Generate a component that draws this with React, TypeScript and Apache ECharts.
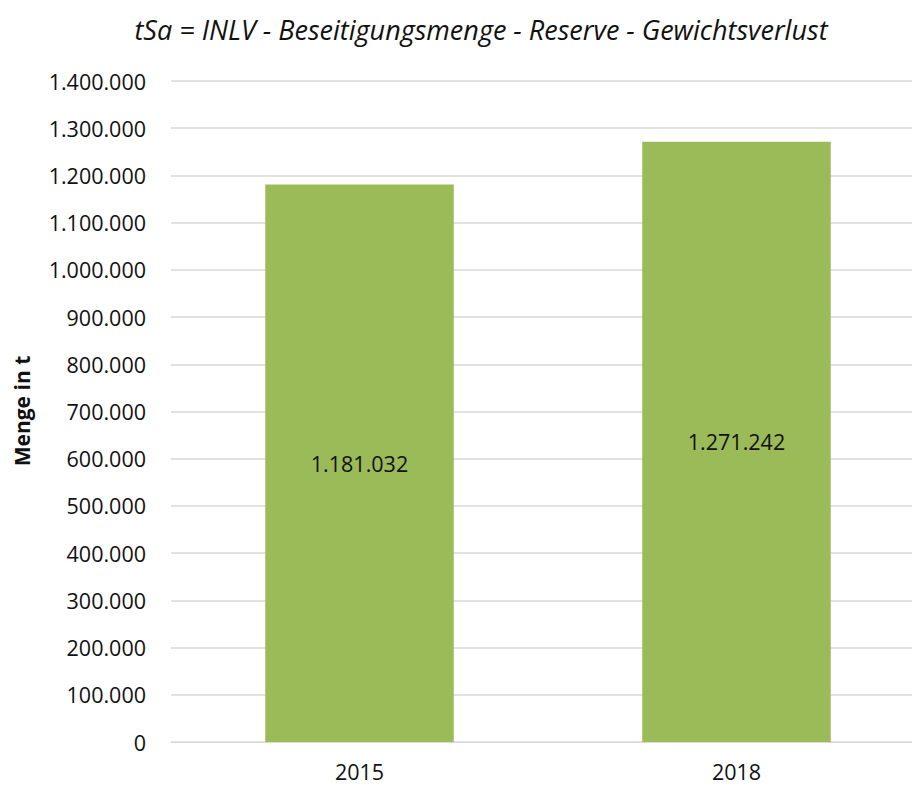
import React, { useEffect, useRef } from "react";
import * as echarts from "echarts";

const categories = ["2015", "2018"];
const values = [1181032, 1271242];
const chartTitle = "tSa = INLV - Beseitigungsmenge - Reserve - Gewichtsverlust";
const yAxisName = "Menge in t";

const fmt = (v: number) => String(Math.round(v)).replace(/\B(?=(\d{3})+(?!\d))/g, ".");

export default function App() {
  const ref = useRef<HTMLDivElement>(null);
  useEffect(() => {
    document.body.style.margin = "0";
    document.body.style.overflow = "hidden";
    const chart = echarts.init(ref.current!, null, { renderer: "svg" });
    const font = "'Open Sans', 'Noto Sans', sans-serif";
    chart.setOption({
      animation: false,
      backgroundColor: "#ffffff",
      title: {
        text: chartTitle,
        left: 476,
        textAlign: "center",
        top: 11,
        textStyle: { fontFamily: font, fontStyle: "italic", fontWeight: "normal", fontSize: 27, color: "#111" },
      },
      grid: { left: 171, right: 0, top: 81, bottom: 43, containLabel: false },
      xAxis: {
        type: "category",
        data: categories,
        axisLine: { show: true, lineStyle: { color: "#D9D9D9", width: 1 } },
        axisTick: { show: false },
        axisLabel: { fontFamily: font, fontSize: 21.5, color: "#111", margin: 18 },
      },
      yAxis: {
        type: "value",
        min: 0,
        max: 1400000,
        interval: 100000,
        axisLine: { show: false },
        axisTick: { show: false },
        axisLabel: { fontFamily: font, fontSize: 21.5, color: "#111", margin: 25, formatter: (v: number) => fmt(v) },
        splitLine: { lineStyle: { color: "#D9D9D9", width: 1.5 } },
      },
      graphic: [
        {
          type: "text",
          x: 22,
          y: 411,
          rotation: Math.PI / 2,
          style: {
            text: yAxisName,
            fontFamily: font,
            fontWeight: "bold",
            fontSize: 21,
            fill: "#111",
            textAlign: "center",
            textVerticalAlign: "middle",
          },
        },
      ],
      series: [
        {
          type: "bar",
          data: values,
          barWidth: "50%",
          itemStyle: { color: "#9BBB59" },
          label: {
            show: true,
            position: "inside",
            fontFamily: font,
            fontSize: 21.5,
            color: "#111",
            formatter: (p: any) => fmt(p.value),
          },
        },
      ],
    });
    return () => chart.dispose();
  }, []);
  return <div ref={ref} style={{ width: 925, height: 785 }} />;
}
